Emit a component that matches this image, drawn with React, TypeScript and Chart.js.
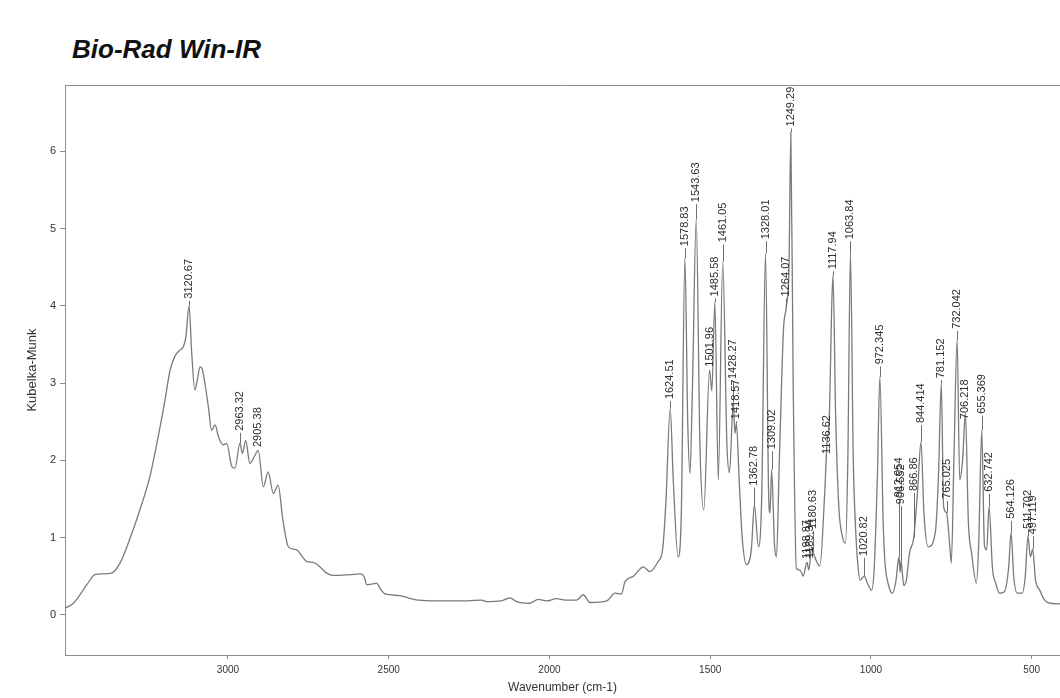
import React, { useEffect, useRef } from "react";
import { Chart, registerables } from "chart.js";

Chart.register(...registerables);

// Spectrum trace (wavenumber in cm-1, Kubelka-Munk units)
const wavenumbers = [
  3510, 3481, 3439, 3414, 3390, 3362, 3336, 3310, 3274, 3243, 3217, 3196, 3180, 3165, 3149, 3139, 3131, 3121,
  3113, 3103, 3095, 3087, 3080, 3070, 3061, 3051, 3040, 3030, 3015, 3004, 2988, 2978, 2963, 2955, 2945, 2932,
  2918, 2906, 2890, 2875, 2859, 2844, 2830, 2812, 2786, 2770, 2755, 2735, 2719, 2704, 2693, 2672, 2620, 2589,
  2575, 2569, 2550, 2538, 2525, 2512, 2465, 2440, 2408, 2350, 2278, 2211, 2196, 2150, 2123, 2102, 2061, 2035,
  2009, 1978, 1950, 1916, 1895, 1874, 1822, 1796, 1776, 1765, 1739, 1708, 1688, 1662, 1648, 1638, 1624.5, 1615,
  1600, 1590, 1578.8, 1570, 1563, 1555, 1543.6, 1532, 1520, 1502, 1495, 1485.6, 1475, 1461, 1448, 1440, 1428.3,
  1423, 1418.6, 1410, 1400, 1387, 1372, 1362.8, 1350, 1340, 1328, 1318, 1314, 1309, 1300, 1294, 1285, 1272,
  1264, 1255, 1249.3, 1242, 1232, 1220, 1211, 1199, 1193, 1185, 1180.6, 1170, 1159, 1144, 1136.6, 1130, 1122,
  1118, 1110, 1100, 1088, 1079, 1072, 1063.8, 1055, 1048, 1042, 1034, 1020.8, 1010, 998, 990, 980, 972.3, 962,
  957, 945, 933, 922, 913, 909, 906.5, 898, 890, 880, 867, 855, 844.4, 835, 822, 800, 790, 781.2, 774, 765, 755,
  750, 742, 732, 724, 715, 706.2, 697, 687, 672, 665, 655.4, 647, 640, 632.7, 622, 612, 600, 585, 572, 564.1,
  556, 545, 530, 520, 511.7, 504, 497.1, 488, 475, 460, 440, 405,
];
const kmValues = [
  0.08, 0.15, 0.39, 0.52, 0.53, 0.54, 0.67, 0.93, 1.36, 1.79, 2.31, 2.78, 3.17, 3.35, 3.43, 3.47, 3.6, 4.0,
  3.4, 2.91, 3.05, 3.21, 3.18, 2.95, 2.69, 2.39, 2.46, 2.31, 2.2, 2.22, 1.92, 1.9, 2.22, 2.09, 2.26, 1.96,
  2.05, 2.13, 1.66, 1.85, 1.57, 1.68, 1.25, 0.88, 0.84, 0.76, 0.69, 0.68, 0.64, 0.58, 0.54, 0.51, 0.52, 0.53,
  0.48, 0.39, 0.4, 0.41, 0.33, 0.27, 0.25, 0.22, 0.19, 0.18, 0.18, 0.19, 0.17, 0.18, 0.22, 0.17, 0.15, 0.2,
  0.18, 0.21, 0.19, 0.19, 0.26, 0.16, 0.18, 0.28, 0.27, 0.43, 0.5, 0.62, 0.56, 0.69, 0.85, 1.45, 2.67, 1.75,
  0.75, 1.3, 4.62, 2.5, 1.83, 3.0, 5.12, 2.2, 1.36, 3.17, 2.9, 4.05, 1.75, 4.57, 2.2, 1.84, 2.75,
  2.35, 2.48, 1.75, 0.97, 0.65, 0.85, 1.42, 0.88, 1.5, 4.68, 1.5, 1.32, 1.88, 0.9, 0.75, 2.0, 3.7,
  3.97, 4.5, 6.25, 3.0, 0.6, 0.58, 0.5, 0.68, 0.58, 0.88, 0.82, 0.7, 0.63, 1.57, 2.24, 2.5, 4.0,
  4.4, 2.6, 1.4, 1.0, 0.93, 2.0, 4.68, 2.0, 1.14, 0.71, 0.45, 0.5, 0.4, 0.32, 0.6, 1.8, 3.08, 1.2,
  0.71, 0.38, 0.28, 0.45, 0.75, 0.55, 0.7, 0.38, 0.45, 0.8, 1.0, 1.6, 2.24, 1.3, 0.88, 1.06, 1.8, 3.0, 1.4, 1.32, 0.9,
  0.67, 2.0, 3.56, 1.75, 2.0, 2.61, 1.2, 0.8, 0.41, 0.9, 2.39, 0.9, 0.84, 1.4, 0.6, 0.41, 0.28, 0.3, 0.6, 1.06,
  0.5, 0.28, 0.28, 0.5, 1.02, 0.75, 0.85, 0.45, 0.32, 0.19, 0.15, 0.14,
];

// Peak annotations
const peakLabels = [
  "3120.67", "2963.32", "2905.38", "1624.51", "1578.83", "1543.63", "1501.96", "1485.58", "1461.05", "1428.27",
  "1418.57", "1362.78", "1328.01", "1309.02", "1264.07", "1249.29", "1198.87", "1189.34", "1180.63", "1136.62",
  "1117.94", "1063.84", "1020.82", "972.345", "912.954", "906.552", "866.86", "844.414", "781.152", "765.025",
  "732.042", "706.218", "655.369", "632.742", "564.126", "511.702", "497.119",
];
const peakWavenumbers = [
  3120.67, 2963.32, 2905.38, 1624.51, 1578.83, 1543.63, 1501.96, 1485.58, 1461.05, 1428.27,
  1418.57, 1362.78, 1328.01, 1309.02, 1264.07, 1249.29, 1198.87, 1189.34, 1180.63, 1136.62,
  1117.94, 1063.84, 1020.82, 972.345, 912.954, 906.552, 866.86, 844.414, 781.152, 765.025,
  732.042, 706.218, 655.369, 632.742, 564.126, 511.702, 497.119,
];
const peakHeights = [
  4.0, 2.22, 2.13, 2.67, 4.62, 5.12, 3.17, 4.05, 4.57, 2.75,
  2.48, 1.42, 4.68, 1.88, 3.97, 6.25, 0.68, 0.8, 0.82, 2.24,
  4.4, 4.68, 0.5, 3.08, 0.75, 0.7, 1.0, 2.24, 3.0, 1.32,
  3.56, 2.61, 2.39, 1.4, 1.06, 1.02, 0.85,
];
const peakLabelBases = [
  4.08, 2.37, 2.16, 2.78, 4.76, 5.33, 3.2, 4.11, 4.81, 3.04,
  2.52, 1.66, 4.85, 2.13, 4.11, 6.31, 0.71, 0.72, 1.1, 2.07,
  4.46, 4.85, 0.75, 3.23, 1.51, 1.42, 1.59, 2.47, 3.05, 1.49,
  3.69, 2.52, 2.59, 1.58, 1.23, 1.1, 1.03,
];

const xTickValues = [3000, 2500, 2000, 1500, 1000, 500];
const yTickValues = [0, 1, 2, 3, 4, 5, 6];

const FONT = '"Liberation Sans", Arial, sans-serif';

const peakLabelPlugin = {
  id: "peakLabels",
  afterDatasetsDraw(chart: any) {
    const { ctx, chartArea } = chart;
    const xs = chart.scales.x;
    const ys = chart.scales.y;
    ctx.save();
    // top frame line
    ctx.strokeStyle = "#8c8c8c";
    ctx.lineWidth = 1;
    ctx.beginPath();
    ctx.moveTo(chartArea.left, chartArea.top + 0.5);
    ctx.lineTo(chartArea.right, chartArea.top + 0.5);
    ctx.stroke();

    ctx.font = `11px ${FONT}`;
    ctx.fillStyle = "#2e2e2e";
    ctx.strokeStyle = "#6e6e6e";
    for (let i = 0; i < peakLabels.length; i++) {
      const x = xs.getPixelForValue(peakWavenumbers[i]);
      const yb = ys.getPixelForValue(peakLabelBases[i]);
      const yp = ys.getPixelForValue(peakHeights[i]);
      if (yp - yb > 3) {
        ctx.beginPath();
        ctx.moveTo(Math.round(x) + 0.5, yb + 1);
        ctx.lineTo(Math.round(x) + 0.5, yp);
        ctx.stroke();
      }
      ctx.save();
      ctx.translate(x, yb - 1);
      ctx.rotate(-Math.PI / 2);
      ctx.textAlign = "left";
      ctx.textBaseline = "middle";
      ctx.fillText(peakLabels[i], 0, 0);
      ctx.restore();
    }
    ctx.restore();
  },
};

export default function App() {
  const canvasRef = useRef<HTMLCanvasElement | null>(null);

  useEffect(() => {
    const canvas = canvasRef.current;
    if (!canvas) return;
    const points = wavenumbers.map((w, i) => ({ x: w, y: kmValues[i] }));
    const chart = new Chart(canvas, {
      type: "line",
      data: {
        datasets: [
          {
            data: points,
            borderColor: "#7a7a7a",
            borderWidth: 1.3,
            pointRadius: 0,
            fill: false,
            cubicInterpolationMode: "monotone",
          },
        ],
      },
      options: {
        animation: false,
        responsive: false,
        devicePixelRatio: 1,
        layout: { padding: { top: 85, left: 0, right: 0, bottom: 0 } },
        plugins: {
          legend: { display: false },
          tooltip: { enabled: false },
          title: { display: false },
        },
        scales: {
          x: {
            type: "linear",
            reverse: true,
            min: 412,
            max: 3507,
            afterBuildTicks: (s: any) => {
              s.ticks = xTickValues.map((v) => ({ value: v }));
            },
            afterFit: (s: any) => {
              s.height = 43;
            },
            grid: { display: true, drawOnChartArea: false, drawTicks: true, tickLength: 4, color: "#8c8c8c" },
            border: { display: true, color: "#8c8c8c", width: 1 },
            ticks: {
              color: "#333",
              font: { family: FONT, size: 10 },
              padding: 5,
              maxRotation: 0,
              autoSkip: false,
              callback: (v: any) => String(v),
            },
            title: {
              display: true,
              text: "Wavenumber (cm-1)",
              color: "#333",
              font: { family: FONT, size: 12 },
              padding: { top: 0, bottom: 3 },
            },
          },
          y: {
            type: "linear",
            min: -0.52,
            max: 6.86,
            afterBuildTicks: (s: any) => {
              s.ticks = yTickValues.map((v) => ({ value: v }));
            },
            afterFit: (s: any) => {
              s.width = 65;
            },
            grid: { display: true, drawOnChartArea: false, drawTicks: true, tickLength: 5, color: "#8c8c8c" },
            border: { display: true, color: "#8c8c8c", width: 1 },
            ticks: {
              color: "#333",
              font: { family: FONT, size: 11 },
              padding: 4,
              callback: (v: any) => String(v),
            },
            title: {
              display: true,
              text: "Kubelka-Munk",
              color: "#333",
              font: { family: FONT, size: 13 },
              padding: { top: 25, bottom: 0 },
            },
          },
        },
      },
      plugins: [peakLabelPlugin],
    });
    return () => {
      chart.destroy();
    };
  }, []);

  return (
    <div style={{ position: "absolute", left: 0, top: 0, width: 1060, height: 698, overflow: "hidden", background: "#fff" }}>
      <div
        style={{
          position: "absolute",
          left: 72,
          top: 36,
          fontFamily: FONT,
          fontWeight: "bold",
          fontStyle: "italic",
          fontSize: 26,
          lineHeight: "26px",
          color: "#111",
          whiteSpace: "nowrap",
        }}
      >
        Bio-Rad Win-IR
      </div>
      <canvas ref={canvasRef} width={1060} height={698} style={{ position: "absolute", left: 0, top: 0 }} />
    </div>
  );
}
